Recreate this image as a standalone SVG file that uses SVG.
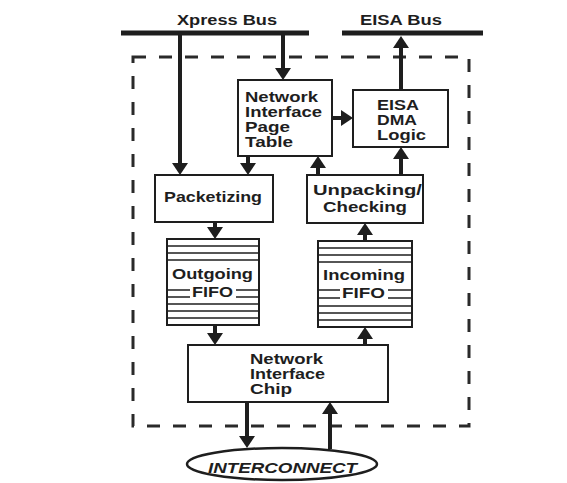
<svg xmlns="http://www.w3.org/2000/svg" width="567" height="483" viewBox="0 0 567 483">
<style>
  .box{fill:#fff;stroke:#1e1e1e;stroke-width:2}
  .bus{stroke:#1e1e1e;stroke-width:5;fill:none}
  .arr{stroke:#1e1e1e;stroke-width:4;fill:none;marker-end:url(#ah)}
  .fl{stroke:#1e1e1e;stroke-width:1.5}
  .dash{fill:none;stroke:#2a2a2a;stroke-width:3;stroke-dasharray:13 13}
  text{font-family:"Liberation Sans",Arial,sans-serif;font-weight:bold;font-size:14px;fill:#1e1e1e}
  .it{font-style:italic}
</style>
<defs>
  <marker id="ah" markerUnits="userSpaceOnUse" markerWidth="12" markerHeight="16" refX="6" refY="8" orient="auto" viewBox="0 0 12 16">
    <path d="M0,0 L12,8 L0,16 z" fill="#1e1e1e"/>
  </marker>
</defs>
<rect width="567" height="483" fill="#fff"/>

<g id="boundary">
  <rect class="dash" x="133" y="57" width="336" height="369"/>
</g>

<g id="xpress-bus">
  <line class="bus" x1="121" y1="33" x2="309" y2="33"/>
  <text x="177" y="25" textLength="100" lengthAdjust="spacingAndGlyphs">Xpress Bus</text>
</g>
<g id="eisa-bus">
  <line class="bus" x1="342" y1="33" x2="483" y2="33"/>
  <text x="360" y="25" textLength="82" lengthAdjust="spacingAndGlyphs">EISA Bus</text>
</g>

<g id="connectors">
  <path class="arr" d="M180,35 L180,169"/>
  <path class="arr" d="M283,35 L283,74"/>
  <path class="arr" d="M332,118 L347,118"/>
  <path class="arr" d="M401,90 L401,42"/>
  <path class="arr" d="M248,156 L248,169"/>
  <path class="arr" d="M318,175 L318,162"/>
  <path class="arr" d="M401,175 L401,153"/>
  <path class="arr" d="M215,222 L215,233"/>
  <path class="arr" d="M365,241 L365,229"/>
  <path class="arr" d="M215,325 L215,339"/>
  <path class="arr" d="M365,345 L365,333"/>
  <path class="arr" d="M247,402 L247,442"/>
  <path class="arr" d="M330,449 L330,408"/>
</g>

<g id="page-table">
  <rect class="box" x="238" y="80" width="94" height="76"/>
  <text x="245" y="102" textLength="73" lengthAdjust="spacingAndGlyphs">Network</text>
  <text x="245" y="117" textLength="77" lengthAdjust="spacingAndGlyphs">Interface</text>
  <text x="245" y="132" textLength="45" lengthAdjust="spacingAndGlyphs">Page</text>
  <text x="245" y="147" textLength="48" lengthAdjust="spacingAndGlyphs">Table</text>
</g>

<g id="eisa-dma">
  <rect class="box" x="353" y="90" width="95" height="57"/>
  <text x="377" y="110" textLength="42" lengthAdjust="spacingAndGlyphs">EISA</text>
  <text x="377" y="125" textLength="40" lengthAdjust="spacingAndGlyphs">DMA</text>
  <text x="377" y="140" textLength="49" lengthAdjust="spacingAndGlyphs">Logic</text>
</g>

<g id="packetizing">
  <rect class="box" x="155" y="175" width="118" height="47"/>
  <text x="164" y="202" textLength="98" lengthAdjust="spacingAndGlyphs">Packetizing</text>
</g>

<g id="unpacking">
  <rect class="box" x="307" y="175" width="116" height="48"/>
  <text x="313" y="195" textLength="109" lengthAdjust="spacingAndGlyphs">Unpacking/</text>
  <text x="323" y="212" textLength="84" lengthAdjust="spacingAndGlyphs">Checking</text>
</g>

<g id="outgoing-fifo">
  <rect class="box" x="167" y="239" width="92" height="86"/>
  <line class="fl" x1="167" y1="246" x2="259" y2="246"/>
  <line class="fl" x1="167" y1="253" x2="259" y2="253"/>
  <line class="fl" x1="167" y1="260" x2="259" y2="260"/>
  <line class="fl" x1="167" y1="290" x2="190" y2="290"/>
  <line class="fl" x1="236" y1="290" x2="259" y2="290"/>
  <line class="fl" x1="167" y1="297" x2="190" y2="297"/>
  <line class="fl" x1="236" y1="297" x2="259" y2="297"/>
  <line class="fl" x1="167" y1="304" x2="259" y2="304"/>
  <line class="fl" x1="167" y1="311" x2="259" y2="311"/>
  <line class="fl" x1="167" y1="318" x2="259" y2="318"/>
  <text x="172" y="279" textLength="81" lengthAdjust="spacingAndGlyphs">Outgoing</text>
  <text x="192" y="297" textLength="41" lengthAdjust="spacingAndGlyphs">FIFO</text>
</g>

<g id="incoming-fifo">
  <rect class="box" x="318" y="241" width="94" height="86"/>
  <line class="fl" x1="318" y1="248" x2="412" y2="248"/>
  <line class="fl" x1="318" y1="255" x2="412" y2="255"/>
  <line class="fl" x1="318" y1="262" x2="412" y2="262"/>
  <line class="fl" x1="318" y1="290" x2="340" y2="290"/>
  <line class="fl" x1="388" y1="290" x2="412" y2="290"/>
  <line class="fl" x1="318" y1="298" x2="340" y2="298"/>
  <line class="fl" x1="388" y1="298" x2="412" y2="298"/>
  <line class="fl" x1="318" y1="306" x2="412" y2="306"/>
  <line class="fl" x1="318" y1="313" x2="412" y2="313"/>
  <line class="fl" x1="318" y1="320" x2="412" y2="320"/>
  <text x="323" y="280" textLength="82" lengthAdjust="spacingAndGlyphs">Incoming</text>
  <text x="342" y="298" textLength="43" lengthAdjust="spacingAndGlyphs">FIFO</text>
</g>

<g id="interface-chip">
  <rect class="box" x="188" y="345" width="200" height="57"/>
  <text x="250" y="364" textLength="73" lengthAdjust="spacingAndGlyphs">Network</text>
  <text x="250" y="379" textLength="75" lengthAdjust="spacingAndGlyphs">Interface</text>
  <text x="250" y="394" textLength="42" lengthAdjust="spacingAndGlyphs">Chip</text>
</g>

<g id="interconnect">
  <ellipse cx="282" cy="464" rx="95" ry="16" fill="#fff" stroke="#1e1e1e" stroke-width="2.5"/>
  <text class="it" x="208" y="473" textLength="149" lengthAdjust="spacingAndGlyphs">INTERCONNECT</text>
</g>
</svg>
